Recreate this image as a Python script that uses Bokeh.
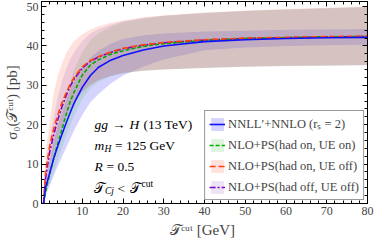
from bokeh.plotting import figure
from bokeh.models import Range1d, FixedTicker, LinearAxis, Legend, LegendItem, Label
from bokeh.embed import file_html
from bokeh.resources import INLINE

# ---- data ----
t_cut = [0.5, 1, 2, 3, 4, 5, 6, 7, 8, 10, 12, 14, 17, 20, 25, 30, 40, 50, 60, 70, 80]

nnll_central = [0, 4, 7.7, 11.5, 14.6, 17.5, 20.3, 23.0, 25.5, 29.5, 32.5, 34.6, 36.4, 37.6, 39.0, 40.0, 41.1, 41.6, 41.9, 42.1, 42.2]
nnll_lower   = [0, 2, 4.5, 7.0, 9.5, 11.8, 14.0, 16.3, 18.6, 22.5, 25.7, 27.8, 30.5, 32.5, 34.8, 36.6, 38.9, 39.6, 40.0, 40.2, 40.3]
nnll_upper   = [0, 6, 11.0, 16.0, 19.8, 23.0, 26.0, 28.8, 31.0, 34.5, 37.0, 38.8, 40.6, 41.8, 42.7, 43.2, 43.7, 43.9, 44.1, 44.2, 44.3]

ue_on_central = [0, 3, 7.5, 11.5, 15.3, 18.8, 22.4, 25.8, 28.3, 32.6, 35.2, 36.5, 37.9, 38.8, 39.9, 40.6, 41.4, 41.9, 42.1, 42.3, 42.4]
ue_on_lower   = [0, 2, 5.0, 8.0, 11.0, 14.0, 17.0, 19.8, 22.3, 26.5, 29.3, 30.9, 32.3, 33.1, 33.7, 34.0, 34.4, 34.7, 34.9, 35.0, 35.2]
ue_on_upper   = [0, 4, 10.0, 15.5, 20.0, 24.0, 27.5, 31.0, 34.0, 38.5, 41.5, 43.2, 44.9, 46.0, 47.0, 47.6, 48.4, 48.9, 49.3, 49.6, 49.9]

had_on_central = [0, 8, 14.5, 19.0, 22.5, 25.5, 28.0, 30.2, 32.0, 34.7, 36.3, 37.3, 38.5, 39.4, 40.3, 40.9, 41.6, 42.0, 42.2, 42.4, 42.5]
had_on_lower   = [0, 5, 10.0, 13.5, 17.0, 20.0, 22.2, 24.3, 26.0, 28.5, 30.3, 31.4, 32.5, 33.2, 33.8, 34.1, 34.5, 34.8, 35.0, 35.1, 35.2]
had_on_upper   = [0, 12, 21.0, 28.0, 32.5, 35.5, 38.0, 39.8, 41.2, 43.0, 44.2, 45.0, 45.9, 46.5, 47.3, 47.8, 48.5, 49.0, 49.4, 49.7, 50.0]

had_off_central = [0, 6.5, 13.0, 17.5, 21.3, 24.5, 27.3, 29.7, 31.6, 34.4, 36.1, 37.2, 38.4, 39.3, 40.2, 40.8, 41.5, 41.9, 42.1, 42.3, 42.4]
had_off_lower   = [0, 4, 9.0, 12.5, 16.0, 19.0, 21.5, 23.7, 25.5, 28.2, 30.1, 31.3, 32.4, 33.1, 33.7, 34.0, 34.4, 34.7, 34.9, 35.0, 35.1]
had_off_upper   = [0, 8, 16.0, 22.0, 27.0, 31.0, 34.0, 36.5, 38.5, 41.3, 43.2, 44.3, 45.4, 46.3, 47.1, 47.7, 48.4, 48.9, 49.3, 49.6, 49.9]

x_ticks = [10, 20, 30, 40, 50, 60, 70, 80]
x_minor = [v for v in range(2, 81, 2) if v % 10]
y_ticks = [0, 10, 20, 30, 40, 50]
y_minor = [v for v in range(2, 52, 2) if v % 10]

labels = ["NNLL\u2032+NNLO (r\u209b = 2)",
          "NLO+PS(had on, UE on)",
          "NLO+PS(had on, UE off)",
          "NLO+PS(had off, UE off)"]

SERIF = "Liberation Serif"

p = figure(width=374, height=243, output_backend="svg", toolbar_location=None,
           x_range=Range1d(0, 80), y_range=Range1d(0, 51.3),
           min_border_left=30, min_border_right=7, min_border_top=1, min_border_bottom=40)
p.grid.visible = False
p.outline_line_color = "black"
p.outline_line_width = 1
p.background_fill_color = "white"

# bands
b_nnll = p.varea(x=t_cut, y1=nnll_lower, y2=nnll_upper, fill_color="#7070ff", fill_alpha=0.3)
b_ueon = p.varea(x=t_cut, y1=ue_on_lower, y2=ue_on_upper, fill_color="#50c050", fill_alpha=0.18)
b_hon = p.varea(x=t_cut, y1=had_on_lower, y2=had_on_upper, fill_color="#ff6040", fill_alpha=0.18)
b_hoff = p.varea(x=t_cut, y1=had_off_lower, y2=had_off_upper, fill_color="#9050c0", fill_alpha=0.16)

# lines
l_hoff = p.line(t_cut, had_off_central, line_color="#7a00d0", line_width=1.6, line_dash="6 2 2 2")
l_ueon = p.line(t_cut, ue_on_central, line_color="#00aa00", line_width=1.6, line_dash="4 2")
l_hon = p.line(t_cut, had_on_central, line_color="#ff4010", line_width=1.6, line_dash="6 3")
l_nnll = p.line(t_cut, nnll_central, line_color="#1010ff", line_width=1.6)

legend = Legend(items=[
    LegendItem(label=labels[0], renderers=[b_nnll, l_nnll]),
    LegendItem(label=labels[1], renderers=[b_ueon, l_ueon]),
    LegendItem(label=labels[2], renderers=[b_hon, l_hon]),
    LegendItem(label=labels[3], renderers=[b_hoff, l_hoff]),
], location="bottom_right")
legend.label_text_font = SERIF
legend.label_text_font_size = "12.5px"
legend.glyph_width = 16
legend.glyph_height = 16
legend.label_height = 16
legend.spacing = 5
legend.padding = 4
legend.margin = 3
legend.label_standoff = 3
legend.border_line_color = "#333333"
legend.border_line_width = 1
legend.background_fill_alpha = 1
p.add_layout(legend)

# axes
def style_axis(ax, show_labels):
    ax.major_tick_in = 5
    ax.major_tick_out = 0
    ax.minor_tick_in = 3
    ax.minor_tick_out = 0
    ax.axis_line_color = "black"
    ax.major_tick_line_color = "black"
    ax.minor_tick_line_color = "black"
    ax.major_label_text_font = SERIF
    if show_labels:
        ax.major_label_text_font_size = "12px"
        ax.major_label_standoff = 3
    else:
        ax.major_label_text_font_size = "1px"
        ax.major_label_text_color = None
        ax.major_label_standoff = 0
    ax.axis_label_text_font = SERIF
    ax.axis_label_text_font_size = "15px"
    ax.axis_label_text_font_style = "normal"

p.xaxis.ticker = FixedTicker(ticks=x_ticks, minor_ticks=x_minor)
p.yaxis.ticker = FixedTicker(ticks=y_ticks, minor_ticks=y_minor)
for ax in p.xaxis + p.yaxis:
    style_axis(ax, True)
p.xaxis.axis_label = "\U0001D4AF\u1D9C\u1D58\u1D57  [GeV]"
p.yaxis.axis_label = "\u03C3\u2080(\U0001D4AF\u1D9C\u1D58\u1D57) [pb]"
p.xaxis.axis_label_standoff = 4
p.yaxis.axis_label_standoff = 4

top = LinearAxis(ticker=FixedTicker(ticks=x_ticks, minor_ticks=x_minor))
right = LinearAxis(ticker=FixedTicker(ticks=y_ticks, minor_ticks=y_minor))
style_axis(top, False)
style_axis(right, False)
p.add_layout(top, "above")
p.add_layout(right, "right")

# annotation text
px_per_unit_y = 202 / 51.3
ann_x = 13.0
rows_y = [20.0, 14.7, 9.4, 3.9]
sub = -3 / px_per_unit_y
sup = 4 / px_per_unit_y
FS = "13.5px"

def lab(txt, y, off, style="normal", size=FS):
    p.add_layout(Label(x=ann_x, y=y, x_offset=off, text=txt, text_font=SERIF,
                       text_font_style=style, text_font_size=size,
                       text_baseline="middle", text_color="black"))

lab("gg", rows_y[0], 0, "italic")
lab("\u2192", rows_y[0], 17.5)
lab("H", rows_y[0], 35, "italic")
lab("(13 TeV)", rows_y[0], 49)

lab("m", rows_y[1], 0, "italic")
lab("H", rows_y[1] + sub, 10, "italic", "9.5px")
lab("= 125 GeV", rows_y[1], 20.5)

lab("R", rows_y[2], 0, "italic")
lab("= 0.5", rows_y[2], 12)

lab("\U0001D4AF", rows_y[3], 0)
lab("Cj", rows_y[3] + sub, 10.5, "italic", "9.5px")
lab("<", rows_y[3], 23)
lab("\U0001D4AF", rows_y[3], 36)
lab("cut", rows_y[3] + sup, 47, "normal", "9.5px")

open("out.html", "w").write(file_html(p, INLINE))
